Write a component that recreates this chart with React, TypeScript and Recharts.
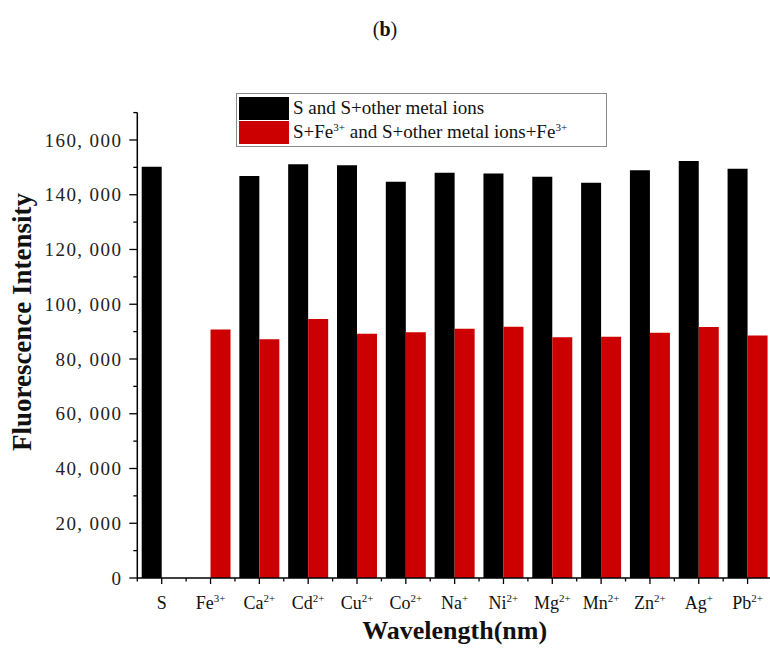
import { BarChart, Bar, XAxis, YAxis, Legend } from 'recharts';

// categories (ion added) and their charge superscripts
const IONS = ['S', 'Fe', 'Ca', 'Cd', 'Cu', 'Co', 'Na', 'Ni', 'Mg', 'Mn', 'Zn', 'Ag', 'Pb'];
const CHARGES = ['', '3+', '2+', '2+', '2+', '2+', '+', '2+', '2+', '2+', '2+', '+', '2+'];

// S and S+other metal ions
const PROBE_VALUES = [150200, null, 146800, 151100, 150800, 144700, 148000, 147800, 146600, 144400, 148900, 152300, 149500];
// S+Fe3+ and S+other metal ions+Fe3+
const FE_VALUES = [null, 90800, 87200, 94600, 89200, 89800, 91000, 91800, 87900, 88100, 89600, 91700, 88600];

const Y_TICKS = [0, 10000, 20000, 30000, 40000, 50000, 60000, 70000, 80000, 90000, 100000, 110000, 120000, 130000, 140000, 150000, 160000, 170000];

const data = IONS.map((name, i) => ({
  name,
  charge: CHARGES[i],
  probe: PROBE_VALUES[i],
  fe: FE_VALUES[i],
}));

const SERIF = '"Liberation Serif", "Times New Roman", serif';
const CHART_W = 772;
const Y_AXIS_W = 137.3;
const BAND = (CHART_W - Y_AXIS_W) / IONS.length;
const RED = '#cc0000';

function XTick(props: any) {
  const { x, y, index } = props;
  const item = data[index];
  return (
    <g>
      <line x1={x} y1={y} x2={x} y2={y + 6} stroke="#000" strokeWidth={1.3} />
      <line x1={x - BAND / 2} y1={y} x2={x - BAND / 2} y2={y + 3.5} stroke="#000" strokeWidth={1.3} />
      <text x={x} y={y + 31} textAnchor="middle" fontFamily={SERIF} fontSize={18} fill="#111">
        {item.name}
        {item.charge && (
          <tspan dy={-7} fontSize={11}>{item.charge}</tspan>
        )}
      </text>
    </g>
  );
}

function YTick(props: any) {
  const { x, y, payload } = props;
  const v = payload.value as number;
  const major = v % 20000 === 0 && v <= 160000;
  return (
    <g>
      <line x1={x} y1={y} x2={x - (major ? 8 : 4)} y2={y} stroke="#000" strokeWidth={1.3} />
      {major && (
        <text
          x={x - 15}
          y={y}
          dy="0.35em"
          textAnchor="end"
          fontFamily={SERIF}
          fontSize={19}
          letterSpacing={1.4}
          fill="#222"
        >
          {v === 0 ? '0' : `${v / 1000}, 000`}
        </text>
      )}
    </g>
  );
}

// y-axis title, placed a little above the plot centre like the original
function YTitle() {
  return (
    <text
      x={0}
      y={0}
      transform="translate(31, 322) rotate(-90)"
      textAnchor="middle"
      fontFamily={SERIF}
      fontSize={27}
      fontWeight={700}
      fill="#111"
    >
      Fluorescence Intensity
    </text>
  );
}

function LegendBox() {
  const row = { display: 'flex', alignItems: 'center', height: 24 } as const;
  const swatch = { width: 50, height: 23, marginRight: 4 } as const;
  const sup = { fontSize: 11, verticalAlign: 'super', lineHeight: 0 } as const;
  return (
    <div
      style={{
        border: '1px solid #8a8a8a',
        background: '#fff',
        padding: '2px 2px',
        fontFamily: SERIF,
        fontSize: 19,
        color: '#111',
        boxSizing: 'border-box',
        width: 371,
        height: 54,
      }}
    >
      <div style={row}>
        <div style={{ ...swatch, background: '#000' }} />
        <span>S and S+other metal ions</span>
      </div>
      <div style={row}>
        <div style={{ ...swatch, background: RED }} />
        <span>
          S+Fe<span style={sup}>3+</span> and S+other metal ions+Fe<span style={sup}>3+</span>
        </span>
      </div>
    </div>
  );
}

export default function App() {
  return (
    <div style={{ position: 'absolute', left: 0, top: 0, width: 770, height: 648, overflow: 'hidden', background: '#fff' }}>
      <div
        style={{
          position: 'absolute',
          left: 0,
          width: 770,
          top: 18,
          textAlign: 'center',
          fontFamily: SERIF,
          fontSize: 20,
          color: '#111',
        }}
      >
        (<b>b</b>)
      </div>
      <BarChart
        width={CHART_W}
        height={648}
        data={data}
        margin={{ top: 112.6, right: 0, left: 0, bottom: 30 }}
        barGap={0}
        barCategoryGap={4.4}
      >
        <XAxis
          dataKey="name"
          interval={0}
          height={40}
          tickSize={0}
          tickMargin={0}
          tickLine={false}
          axisLine={{ stroke: '#000', strokeWidth: 1.5 }}
          tick={<XTick />}
          label={{
            value: 'Wavelength(nm)',
            position: 'insideBottom',
            offset: -21,
            style: { fontFamily: SERIF, fontSize: 26, fontWeight: 700, fill: '#111' },
          }}
        />
        <YAxis
          width={Y_AXIS_W}
          domain={[0, 170000]}
          ticks={Y_TICKS}
          interval={0}
          tickSize={0}
          tickMargin={0}
          tickLine={false}
          axisLine={{ stroke: '#000', strokeWidth: 1.5 }}
          tick={<YTick />}
          label={{ content: () => <YTitle /> }}
        />
        <Legend
          layout="horizontal"
          verticalAlign="middle"
          align="center"
          content={() => <LegendBox />}
          wrapperStyle={{ left: 236, top: 93, width: 371, bottom: 'auto' }}
        />
        <Bar dataKey="probe" fill="#000" isAnimationActive={false} />
        <Bar dataKey="fe" fill={RED} isAnimationActive={false} />
      </BarChart>
    </div>
  );
}
